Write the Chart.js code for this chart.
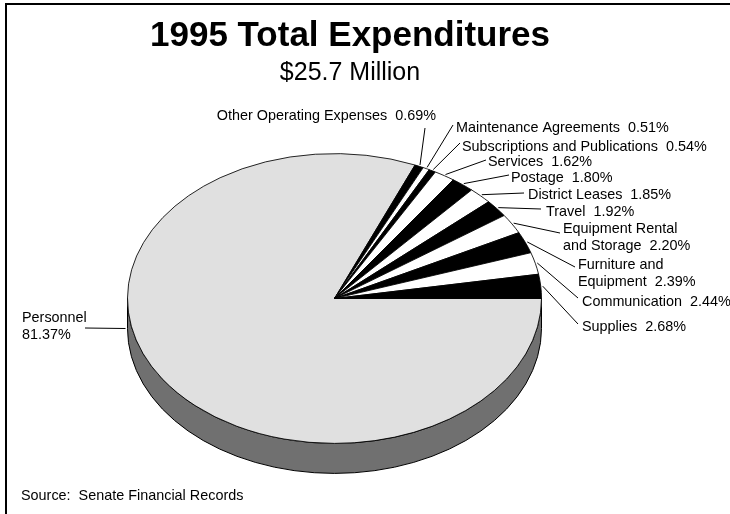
<!DOCTYPE html>
<html>
<head>
<meta charset="utf-8">
<script src="https://cdn.jsdelivr.net/npm/chart.js@4.4.1/dist/chart.umd.min.js"></script>
<style>
  html, body { margin: 0; padding: 0; background: #fff; }
  canvas { display: block; }
</style>
</head>
<body>
<canvas id="expChart" width="730" height="514"></canvas>
<script>
// Categories in drawing order, clockwise from 3 o'clock
const categories = [
    ["Personnel", ""],
    ["Other Operating Expenses"],
    ["Maintenance Agreements"],
    ["Subscriptions and Publications"],
    ["Services"],
    ["Postage"],
    ["District Leases"],
    ["Travel"],
    ["Equipment Rental", "and Storage"],
    ["Furniture and", "Equipment"],
    ["Communication"],
    ["Supplies"]
];
// Share of total spending, percent
const shares = [81.37, 0.69, 0.51, 0.54, 1.62, 1.80, 1.85, 1.92, 2.20, 2.39, 2.44, 2.68];

const titleText = "1995 Total Expenditures";
const subtitleText = "$25.7 Million";
const sourceText = "Source:  Senate Financial Records";

const sliceColors = ["#e0e0e0", "#000", "#fff", "#000", "#fff", "#000",
                     "#fff", "#000", "#fff", "#000", "#fff", "#000"];
const sideColors = ["#707070", "#000", "#808080", "#000", "#808080", "#000",
                    "#808080", "#000", "#808080", "#000", "#808080", "#000"];

// where each label sits (x,y = text anchor, tx,ty = end of the leader line)
const labelLayout = [
    { x: 22,  y: 318, tx: 85,  ty: 328, rimAngle: 180, onBase: true },
    { x: 436, y: 116, tx: 425, ty: 128, align: "right" },
    { x: 456, y: 128, tx: 453, ty: 125 },
    { x: 462, y: 147, tx: 460, ty: 143 },
    { x: 488, y: 162, tx: 486, ty: 160 },
    { x: 511, y: 178, tx: 509, ty: 175 },
    { x: 528, y: 195, tx: 524, ty: 193 },
    { x: 546, y: 212, tx: 541, ty: 209 },
    { x: 563, y: 229, tx: 560, ty: 233 },
    { x: 578, y: 265, tx: 575, ty: 267 },
    { x: 582, y: 302, tx: 578, ty: 298 },
    { x: 582, y: 327, tx: 578, ty: 324 }
];

const TILT = 0.7;    // vertical squash of the pie
const DEPTH = 30;    // thickness of the pie wall
const FONT = "'Liberation Sans', Arial, sans-serif";

// Tilted pie: draws the wall, then squashes the slices into an ellipse
const tiltedPie = {
    id: "tiltedPie",
    beforeDatasetsDraw(chart) {
        const ctx = chart.ctx;
        const arcs = chart.getDatasetMeta(0).data;
        const cx = arcs[0].x, cy = arcs[0].y, r = arcs[0].outerRadius;

        // only the front half of the wall is visible
        arcs.forEach((arc, i) => {
            const a0 = Math.max(arc.startAngle, 0);
            const a1 = Math.min(arc.endAngle, Math.PI);
            if (a1 <= a0) return;
            ctx.beginPath();
            ctx.ellipse(cx, cy, r, r * TILT, 0, a0, a1);
            ctx.ellipse(cx, cy + DEPTH, r, r * TILT, 0, a1, a0, true);
            ctx.closePath();
            ctx.fillStyle = sideColors[i];
            ctx.fill();
            ctx.lineWidth = 1;
            ctx.strokeStyle = "#000";
            ctx.stroke();
        });

        ctx.save();
        ctx.translate(cx, cy);
        ctx.scale(1, TILT);
        ctx.translate(-cx, -cy);
    },
    afterDatasetsDraw(chart) {
        chart.ctx.restore();
    }
};

// Frame, titles, slice labels with leader lines, source note
const decorations = {
    id: "decorations",
    afterDraw(chart) {
        const ctx = chart.ctx;
        const arcs = chart.getDatasetMeta(0).data;
        const cx = arcs[0].x, cy = arcs[0].y, r = arcs[0].outerRadius;

        ctx.save();
        ctx.strokeStyle = "#000";
        ctx.lineWidth = 2;
        ctx.strokeRect(6, 4, 760, 540);

        ctx.fillStyle = "#000";
        ctx.textAlign = "center";
        ctx.textBaseline = "alphabetic";
        ctx.font = "bold 35px " + FONT;
        ctx.fillText(titleText, 350, 46);
        ctx.font = "25px " + FONT;
        ctx.fillText(subtitleText, 350, 80);

        ctx.font = "14.4px " + FONT;
        ctx.textBaseline = "middle";
        ctx.lineWidth = 1;
        arcs.forEach((arc, i) => {
            const lay = labelLayout[i];
            let ang = (arc.startAngle + arc.endAngle) / 2;
            if (lay.rimAngle !== undefined) ang = lay.rimAngle * Math.PI / 180;
            const px = cx + (r + 2) * Math.cos(ang);
            const py = cy + (r + 2) * TILT * Math.sin(ang) + (lay.onBase ? DEPTH : 0);

            ctx.beginPath();
            ctx.moveTo(px, py);
            ctx.lineTo(lay.tx, lay.ty);
            ctx.stroke();

            const lines = categories[i].slice();
            const pct = shares[i].toFixed(2) + "%";
            const last = lines.length - 1;
            lines[last] = lines[last] ? lines[last] + "  " + pct : pct;
            ctx.textAlign = lay.align || "left";
            lines.forEach((t, k) => ctx.fillText(t, lay.x, lay.y + k * 17));
        });

        ctx.textAlign = "left";
        ctx.fillText(sourceText, 21, 496);
        ctx.restore();
    }
};

new Chart(document.getElementById("expChart"), {
    type: "pie",
    data: {
        labels: categories.map(c => c.filter(Boolean).join(" ")),
        datasets: [{
            data: shares,
            backgroundColor: sliceColors,
            borderColor: "#000",
            borderWidth: 1,
            hoverOffset: 0
        }]
    },
    options: {
        responsive: false,
        animation: false,
        events: [],
        rotation: 90,
        layout: { padding: { left: 127, right: 188, top: 91, bottom: 8 } },
        plugins: {
            legend: { display: false },
            tooltip: { enabled: false }
        }
    },
    plugins: [tiltedPie, decorations]
});
</script>
</body>
</html>
